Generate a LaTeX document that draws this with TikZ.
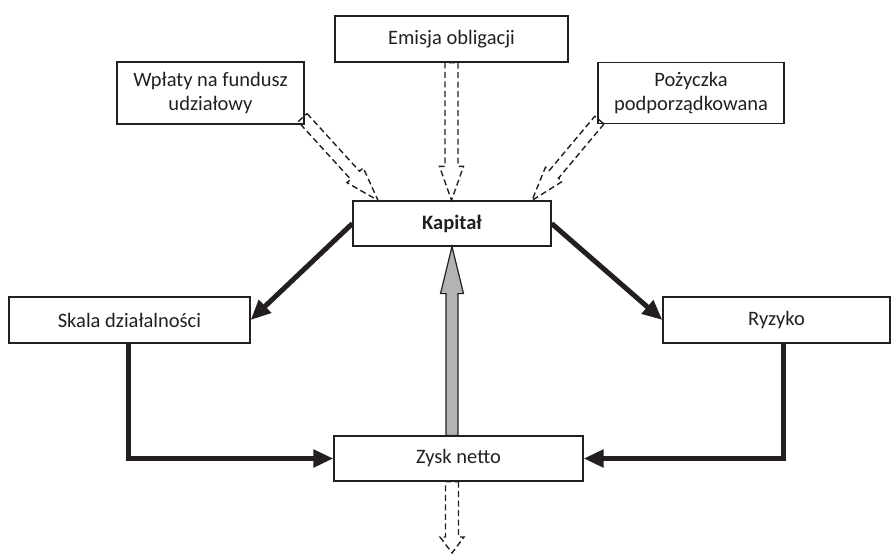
\documentclass[tikz,border=0pt]{standalone}
\usepackage{fontspec}
\setmainfont{Carlito}
\usetikzlibrary{arrows.meta,calc}
\definecolor{ink}{HTML}{231F20}
\definecolor{arrgray}{HTML}{B3B3B3}
\tikzset{
  box/.style={draw=ink,line width=1.2pt,rectangle,inner sep=0pt,align=center,font=\fontsize{20.5}{24}\selectfont,text=ink},
  thick arr/.style={draw=ink,line width=5pt,-{Triangle[length=20pt,width=17pt]}},
  hollow/.style={draw=ink,line width=1.4pt,dash pattern=on 6pt off 3.5pt,line join=miter},
  grayarrow/.style={draw=ink,line width=1.2pt,fill=arrgray,line join=miter}
}
% #1 style, #2 tail, #3 tip, #4 shaft half width, #5 head half width, #6 head length
\newcommand\hollowarr[6]{%
  \draw[#1] ($(#2)!#4!90:(#3)$) -- ($(#3)!#6!(#2)!#4!90:(#3)$) -- ($(#3)!#6!(#2)!#5!90:(#3)$)
    -- (#3) -- ($(#3)!#6!(#2)!#5!-90:(#3)$) -- ($(#3)!#6!(#2)!#4!-90:(#3)$)
    -- ($(#2)!#4!-90:(#3)$) -- cycle;}
\begin{document}
\begin{tikzpicture}[x=1pt,y=-1pt]
\useasboundingbox (0,0) rectangle (893,554);
\node[box,minimum width=233pt,minimum height=46pt] (emisja) at (451.5,39) {Emisja obligacji};
\node[box,minimum width=187pt,minimum height=62pt] (wplaty) at (210.5,93) {Wpłaty na fundusz\\udziałowy};
\node[box,minimum width=186pt,minimum height=61pt] (pozyczka) at (691,93) {Pożyczka\\podporządkowana};
\node[box,minimum width=198pt,minimum height=45pt,font=\fontsize{20.5}{24}\selectfont\bfseries] (kapital) at (452,223.5) {Kapitał};
\node[box,minimum width=241pt,minimum height=46pt] (skala) at (129.5,320) {Skala działalności};
\node[box,minimum width=227pt,minimum height=46pt] (ryzyko) at (776.5,320) {Ryzyko};
\node[box,minimum width=249pt,minimum height=45pt] (zysk) at (458.5,458.5) {Zysk netto};

\coordinate (wTail) at ([xshift=-2pt,yshift=7pt]wplaty.south east);
\coordinate (wTip) at ([xshift=-74pt]kapital.north);
\coordinate (pTail) at ([xshift=2pt,yshift=4pt]pozyczka.south west);
\coordinate (pTip) at ([xshift=80pt]kapital.north);
\coordinate (eTail) at (emisja.south);
\coordinate (eTip) at (emisja.south |- kapital.north);
\coordinate (zTail) at (kapital.south |- zysk.south);
\coordinate (zTip) at (452,553);
\coordinate (gTail) at (kapital.south |- zysk.north);

\hollowarr{hollow}{eTail}{eTip}{6.5pt}{12pt}{34pt}
\hollowarr{hollow}{wTail}{wTip}{6pt}{11pt}{34pt}
\hollowarr{hollow}{pTail}{pTip}{6pt}{11pt}{34pt}
\hollowarr{hollow}{zTail}{zTip}{6.5pt}{12pt}{16pt}
\hollowarr{grayarrow}{gTail}{kapital.south}{6pt}{11.5pt}{47pt}

\draw[thick arr] (kapital.west) -- (skala.east);
\draw[thick arr] (kapital.east) -- (ryzyko.west);
\draw[thick arr] ([xshift=-1pt]skala.south) |- (zysk.west);
\draw[thick arr] ([xshift=6.5pt]ryzyko.south) |- (zysk.east);
\end{tikzpicture}
\end{document}
